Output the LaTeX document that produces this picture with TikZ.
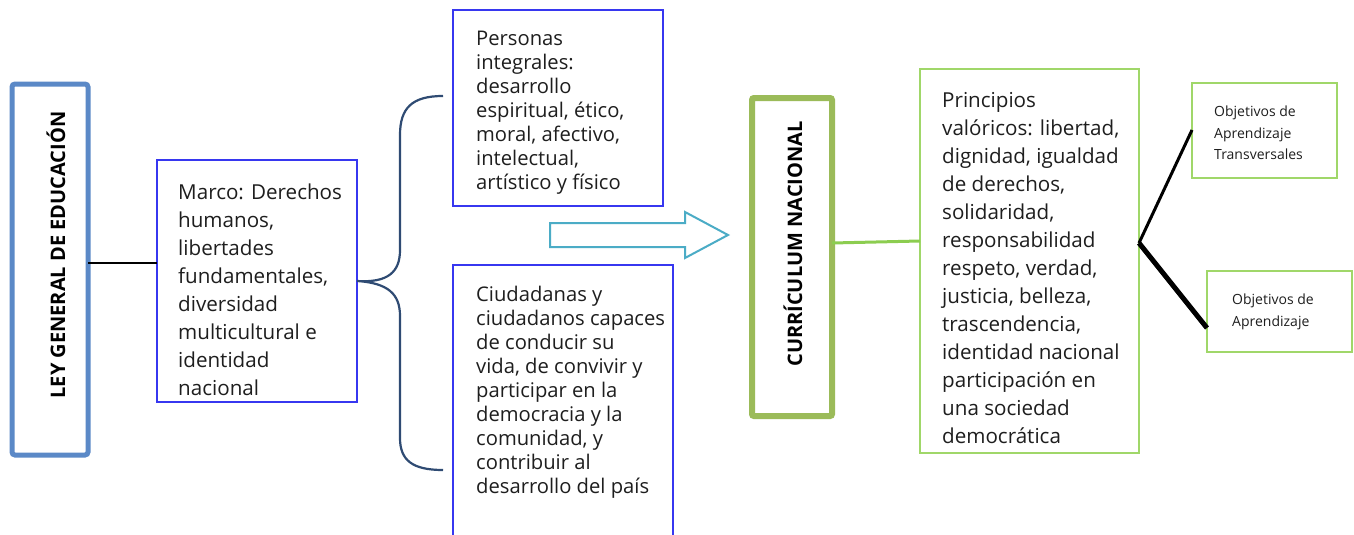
\documentclass[tikz,border=0pt]{standalone}
\usepackage{fontspec}
\setmainfont{Open Sans}
\definecolor{leyblue}{RGB}{91,137,199}
\definecolor{boxblue}{RGB}{55,55,240}
\definecolor{bracecol}{RGB}{47,75,115}
\definecolor{arrowcol}{RGB}{75,172,198}
\definecolor{curgreen}{RGB}{155,187,89}
\definecolor{lightgreen}{RGB}{160,215,105}
\definecolor{linegreen}{RGB}{140,205,80}
\definecolor{txt}{RGB}{30,30,30}
\tikzset{
  framebox/.style={draw, inner sep=0pt, outer sep=0pt, anchor=north west},
  bluebox/.style={framebox, draw=boxblue, line width=2pt},
  greenbox/.style={framebox, draw=lightgreen, line width=1.6pt},
  bodytext/.style={anchor=north west, inner sep=0pt, align=left, text=txt},
  bigtext/.style={bodytext, font=\fontsize{20.6}{28}\selectfont},
  tighttext/.style={bodytext, font=\fontsize{20.2}{24}\selectfont},
  smalltext/.style={bodytext, font=\fontsize{14}{21.5}\selectfont},
  vtitle/.style={rotate=90, text=black, font=\bfseries\fontsize{20}{24}\selectfont, inner sep=0pt}
}
\begin{document}
\begin{tikzpicture}[x=1pt,y=-1pt]
\useasboundingbox (0,0) rectangle (1354,535);
\clip (0,0) rectangle (1354,535);
\fill[white] (0,0) rectangle (1354,535);

% LEY box
\node[framebox, draw=leyblue, line width=5pt, rounded corners=3pt,
      minimum width=76pt, minimum height=371pt] (ley) at (12,84) {};
\node[vtitle] (leyt) at (56,255) {LEY GENERAL DE EDUCACIÓN};

% Marco box
\node[bluebox, minimum width=200pt, minimum height=242pt] (marco) at (157,160) {};
\node[bigtext] (marcot) at (178,184) {Marco: Derechos\\humanos,\\libertades\\fundamentales,\\diversidad\\multicultural e\\identidad\\nacional};
\draw[line width=1.5pt, black] (ley.east |- 0,263) -- (marco.west |- 0,263);

% Top box
\node[bluebox, minimum width=210pt, minimum height=196pt] (top) at (453,10) {};
\node[tighttext] (topt) at (476,31) {Personas\\integrales:\\desarrollo\\espiritual, ético,\\moral, afectivo,\\intelectual,\\artístico y físico};

% Bottom box
\node[bluebox, minimum width=220pt, minimum height=290pt] (bot) at (453,265) {};
\node[tighttext] (bott) at (476,286) {Ciudadanas y\\ciudadanos capaces\\de conducir su\\vida, de convivir y\\participar en la\\democracia y la\\comunidad, y\\contribuir al\\desarrollo del país};

% Brace
\coordinate (b1) at (443,96);
\coordinate (b2) at (443,470);
\draw[bracecol, line width=2.2pt]
  (b1) .. controls (412,96) and (400,108) .. (400,135) -- (400,250)
  .. controls (400,272) and (388,283) .. (marco.east)
  .. controls (388,283) and (400,294) .. (400,316) -- (400,438)
  .. controls (400,460) and (412,470) .. (b2);

% Block arrow
\draw[arrowcol, line width=2pt, line join=miter]
  (550,223) -- (685,223) -- (685,212) -- (728,235) -- (685,258) -- (685,247) -- (550,247) -- cycle;

% Curriculum box
\node[framebox, draw=curgreen, line width=6pt, rounded corners=2pt,
      minimum width=80pt, minimum height=318pt] (cur) at (752,98) {};
\node[vtitle] (curt) at (793,244) {CURRÍCULUM NACIONAL};

% Principios box
\node[greenbox, minimum width=219pt, minimum height=384pt] (prin) at (920,69) {};
\node[bigtext] (print) at (942,92) {Principios\\valóricos: libertad,\\dignidad, igualdad\\de derechos,\\solidaridad,\\responsabilidad\\respeto, verdad,\\justicia, belleza,\\trascendencia,\\identidad nacional\\participación en\\una sociedad\\democrática};
\draw[linegreen, line width=3pt] (cur.east |- 0,243) -- (prin.west |- 0,241);

% Right boxes
\node[greenbox, minimum width=145pt, minimum height=95pt] (oat) at (1192,83) {};
\node[smalltext] (oatt) at (1214,106) {Objetivos de\\Aprendizaje\\Transversales};
\node[greenbox, minimum width=145pt, minimum height=81pt] (oa) at (1207,271) {};
\node[smalltext] (oat2) at (1232,294) {Objetivos de\\Aprendizaje};

\coordinate (fork) at (1139,243);
\draw[black, line width=3pt] (fork) -- (oat.west |- 0,130);
\draw[black, line width=5pt] (fork) -- (oa.west |- 0,328);
\end{tikzpicture}
\end{document}
